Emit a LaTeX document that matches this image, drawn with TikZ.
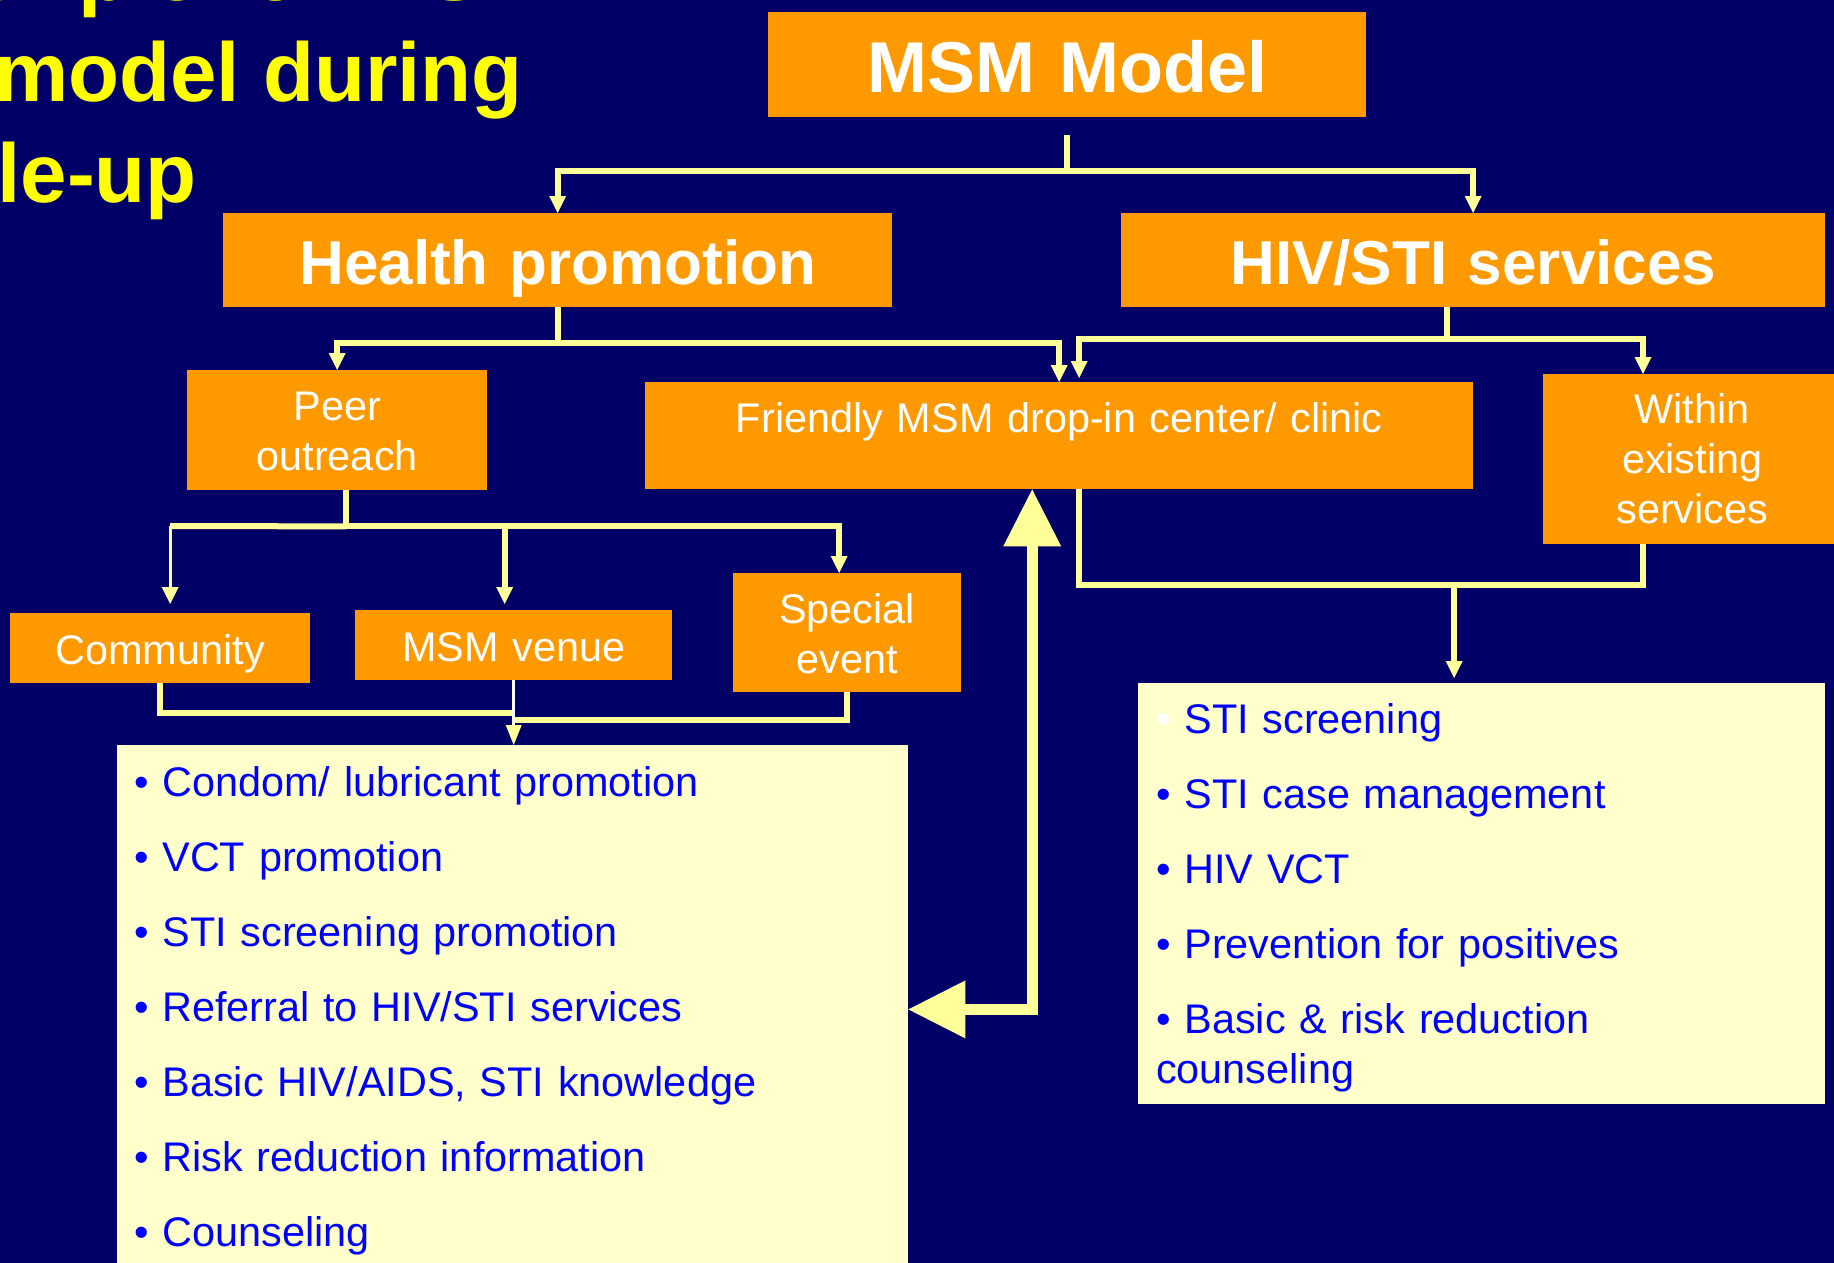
\documentclass[tikz,border=0pt]{standalone}
\usepackage{fontspec}
\setmainfont{Liberation Sans}
\usetikzlibrary{arrows.meta,calc}
\definecolor{navy}{HTML}{000066}
\definecolor{orng}{HTML}{FF9900}
\definecolor{paleyel}{HTML}{FFFFCC}
\definecolor{linkyel}{HTML}{FFFF99}
\definecolor{titleyel}{HTML}{FFFF00}
\definecolor{itemblue}{HTML}{0000FF}

\begin{document}
\begin{tikzpicture}[x=1pt,y=-1pt,
  obox/.style={fill=orng,text=white,inner sep=0pt,align=center,anchor=north west,
    font=\fontsize{41.4}{50}\selectfont},
  hbox/.style={obox,font=\fontsize{62}{70}\selectfont\bfseries},
  ybox/.style={fill=paleyel,text=itemblue,inner xsep=18pt,inner ysep=0pt,align=left,
    anchor=north west,font=\fontsize{41.4}{75}\selectfont},
  ttl/.style={text=titleyel,inner sep=0pt,anchor=base west,
    font=\fontsize{83.5}{100}\selectfont\bfseries},
  conn/.style={draw=linkyel,line width=6pt},
  connthin/.style={draw=linkyel,line width=3pt},
  arr/.style={-{Triangle[length=17pt,width=17pt,line width=0pt]}},
  bigarr/.style={draw=linkyel,line width=11pt,
    {Triangle[length=57pt,width=58pt,line width=0pt]}-{Triangle[length=57pt,width=58pt,line width=0pt]}},
]
% background and frame
\fill[navy] (0,0) rectangle (1834,1263);
\useasboundingbox (0,0) rectangle (1834,1263);
\clip (0,0) rectangle (1834,1263);

% slide title
\node[ttl] (ttlA) at (-144,1) {Example for MSM};
\node[ttl] (ttlB) at (-6,102) {model during};
\node[ttl] (ttlC) at (-142,202) {scale-up};

% boxes
\node[hbox,font=\fontsize{72}{80}\selectfont\bfseries,text width=598pt,text height=80pt,text depth=25pt] (msm) at (768,12) {MSM Model};
\node[hbox,text width=669pt,text height=71pt,text depth=23pt] (health) at (223,213) {Health promotion};
\node[hbox,text width=704pt,text height=71pt,text depth=23pt] (hiv) at (1121,213) {HIV/STI services};
\node[obox,text width=300pt,text height=50pt,text depth=70pt] (peer) at (187,370) {Peer\\outreach};
\node[obox,text width=828pt,text height=50pt,text depth=57pt] (clinic) at (645,382) {Friendly MSM drop-in center/ clinic};
\node[obox,text width=298pt,text height=49pt,text depth=121pt] (within) at (1543,374) {Within\\existing\\services};
\node[obox,text width=300pt,text height=51pt,text depth=19pt] (community) at (10,613) {Community};
\node[obox,text width=317pt,text height=51pt,text depth=19pt] (venue) at (355,610) {MSM venue};
\node[obox,text width=228pt,text height=50pt,text depth=69pt] (special) at (733,573) {Special\\event};

\node[ybox,inner xsep=17pt,text width=757pt,text height=51pt,text depth=474pt] (promo) at (117,745)
  {• Condom/ lubricant promotion\\
   • VCT promotion\\
   • STI screening promotion\\
   • Referral to HIV/STI services\\
   • Basic HIV/AIDS, STI knowledge\\
   • Risk reduction information\\
   • Counseling};
\node[ybox,text width=651pt,text height=50pt,text depth=371pt] (services) at (1138,683)
  {{\color{white}•} STI screening\\
   • STI case management\\
   • HIV VCT\\
   • Prevention for positives\\
   • Basic \& risk reduction\\[-25pt]
   counseling};

% MSM Model to its two branches
\coordinate (jTop) at ($(msm.south)+(0,54)$);
\draw[conn] ($(msm.south)+(0,18)$) -- (jTop);
\draw[conn,arr] (jTop) -| (health.north);
\draw[conn,arr] (jTop) -| (hiv.north);

% Health promotion
\coordinate (jHP) at ($(health.south)+(0,36)$);
\draw[conn] (health.south) -- (jHP);
\draw[conn,arr] (jHP) -| (peer.north);
\draw[conn,arr] (jHP) -| (clinic.north);

% HIV/STI services
\coordinate (jHS) at ($(hiv.south)+(-26,32)$);
\draw[conn] ($(hiv.south)+(-26,0)$) -- (jHS);
\draw[conn,arr] (jHS) -| ($(clinic.north)+(20,-4)$);
\draw[conn,arr] (jHS) -| ($(within.north west)+(100,0)$);

% Peer outreach to the three settings
\coordinate (jPO) at ($(peer.south)+(9,36)$);
\coordinate (jPOl) at ($(community.north)+(10,-87)$);
\draw[conn] ($(peer.south)+(9,0)$) -- (jPO);
\draw[conn] (jPO) -- (jPOl);
\draw[connthin,arr] (jPOl) -- ($(community.north)+(10,-9)$);
\draw[conn,arr] (jPO) -| ($(venue.north)+(-9,-6)$);
\draw[conn,arr] (jPO) -| ($(special.north)+(-8,0)$);

% settings merge into the promotion list
\coordinate (jL) at ($(promo.north)+(0,-32)$);
\draw[conn] (community.south) |- (jL);
\draw[conn] (special.south) |- ($(jL)+(0,7)$);
\draw[white,line width=3pt,-{Triangle[length=20pt,width=16pt,line width=0pt,color=linkyel]}]
  (venue.south) -- (venue.south |- promo.north);

% clinic and existing services into the service list
\coordinate (jCS) at ($(services.north)+(-27.5,-98)$);
\draw[conn] ($(clinic.south)+(20,0)$) |- (jCS);
\draw[conn] ($(within.south west)+(100,0)$) |- (jCS);
\draw[conn,arr] (jCS) -- ($(services.north)+(-27.5,-5)$);

% two-way link between promotion list and clinic
\coordinate (jBig) at ($(clinic.south)+(-27,520)$);
\draw[bigarr] (jBig -| promo.east) -- (jBig) -- (jBig |- clinic.south);
\end{tikzpicture}
\end{document}
